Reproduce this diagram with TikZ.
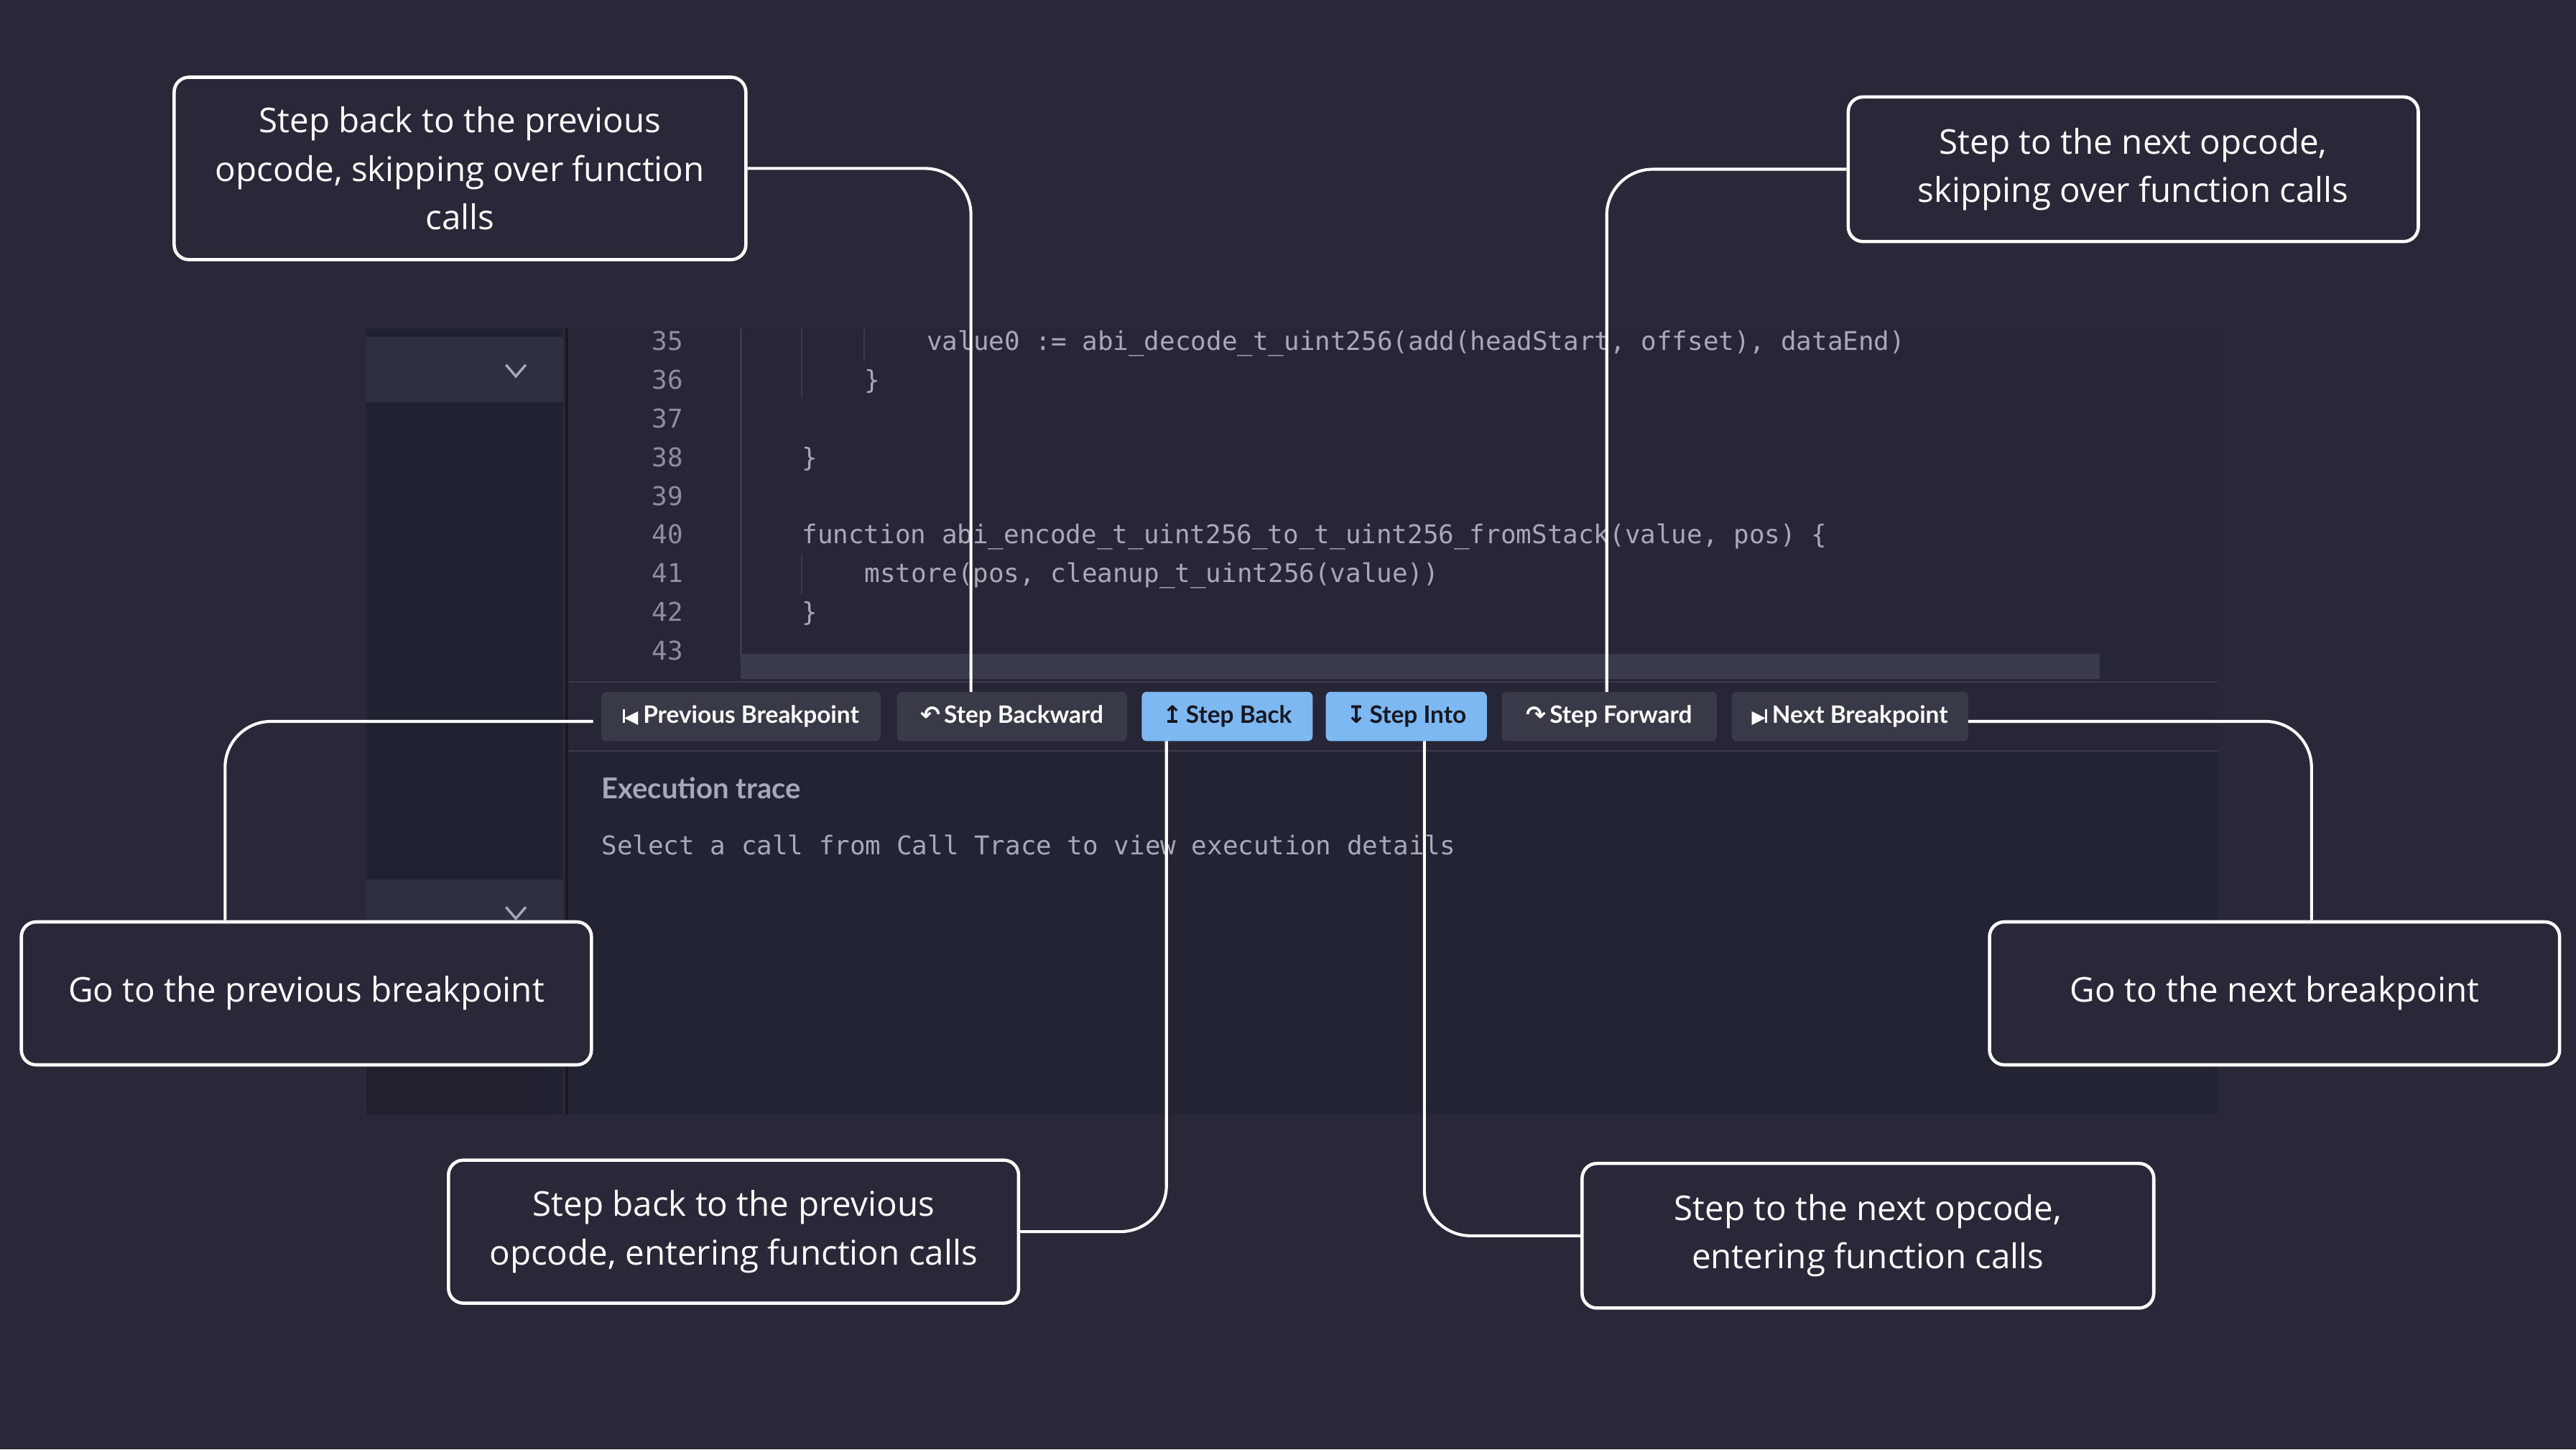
\documentclass[tikz,border=0pt]{standalone}
\usepackage{fontspec}
\setmainfont{Open Sans}
\newfontfamily\btnfont{Lato}
\newfontfamily\codefont{DejaVu Sans Mono}
\newfontfamily\symfont{DejaVu Sans}
\definecolor{bgc}{HTML}{282839}
\definecolor{sidec}{HTML}{212231}
\definecolor{sidehead}{HTML}{2E2F40}
\definecolor{edc}{HTML}{262636}
\definecolor{lowc}{HTML}{232433}
\definecolor{btnc}{HTML}{393A48}
\definecolor{blue}{HTML}{7DB8F2}
\definecolor{codec}{HTML}{A8A9B6}
\definecolor{numc}{HTML}{8E8F9C}
\definecolor{scrollc}{HTML}{3A3B4A}
\begin{document}
\begin{tikzpicture}[x=1pt,y=-1pt,
  callout/.style={draw=white,line width=2pt,rounded corners=9pt,fill=bgc,text=white,align=center,font=\fontsize{20.8}{29.5}\selectfont,inner sep=0pt},
  conn/.style={draw=white,line width=1.8pt,rounded corners=28pt},
  btn/.style={fill=btnc,rounded corners=3pt,inner sep=0pt,text=white,font=\btnfont\bfseries\fontsize{14.6}{16}\selectfont},
  bbtn/.style={btn,fill=blue,text=bgc!60!black},
  code/.style={anchor=base west,inner sep=0pt,text=codec,font=\codefont\fontsize{15.7}{18}\selectfont},
  num/.style={anchor=base east,inner sep=0pt,text=numc,font=\codefont\fontsize{15.7}{18}\selectfont}]
\fill[bgc] (0,0) rectangle (1568,882);
\useasboundingbox (0,0) rectangle (1568,882);
% panel
\fill[sidec] (223,200) rectangle (343,678);
\fill[sidehead] (223,205) rectangle (343,245);
\fill[sidehead] (223,535) rectangle (343,575);
\fill[lowc!90!black] (223,585) rectangle (332,678);
\draw[codec,line width=1.5pt] (308,222)--(314,229)--(320,222);
\draw[codec,line width=1.5pt] (308,552)--(314,559)--(320,552);
\fill[edc] (345,200) rectangle (1350,415);
\fill[lowc] (345,457) rectangle (1350,678);
\fill[edc] (345,415) rectangle (1350,457);
\draw[scrollc,line width=0.8pt] (345,415)--(1350,415) (345,457)--(1350,457);
\draw[sidec!70!black,line width=1.5pt] (345,200)--(345,678);
\draw[scrollc,line width=1pt] (451,200)--(451,400);
\fill[scrollc] (451,398) rectangle (1278,413);
\draw[scrollc,line width=1pt] (488,200)--(488,242) (526,200)--(526,220) (488,338)--(488,362);
% code
\foreach \n [count=\i from 0] in {35,...,43}
  \node[num] (ln\n) at (416,{213+23.6*\i}) {\n};
\node[code] (c35) at (564,213) {value0 := abi\_decode\_t\_uint256(add(headStart, offset), dataEnd)};
\node[code] (c36) at (526,236.6) {\}};
\node[code] (c38) at (488,283.8) {\}};
\node[code] (c40) at (488,331) {function abi\_encode\_t\_uint256\_to\_t\_uint256\_fromStack(value, pos) \{};
\node[code] (c41) at (526,354.6) {mstore(pos, cleanup\_t\_uint256(value))};
\node[code] (c42) at (488,378.2) {\}};
\node[anchor=base west,inner sep=0pt,text=codec,font=\btnfont\bfseries\fontsize{17.5}{20}\selectfont] (et) at (366,486) {Execution trace};
\node[code] (sel) at (366,520) {Select a call from Call Trace to view execution details};
% buttons
\node[btn,minimum width=170pt,minimum height=30pt] (pb) at (451,436) {\symfont\fontsize{11}{12}\selectfont\raisebox{0.5pt}{\rule{1.4pt}{8pt}}\kern-0.5pt◀\kern3pt\btnfont\bfseries\fontsize{14.6}{16}\selectfont Previous Breakpoint};
\node[btn,minimum width=140pt,minimum height=30pt] (sbw) at (616,436) {{\symfont ↶}\kern2pt Step Backward};
\node[bbtn,minimum width=104pt,minimum height=30pt] (sb) at (747,436) {{\symfont ↥}\kern2pt Step Back};
\node[bbtn,minimum width=98pt,minimum height=30pt] (si) at (856,436) {{\symfont ↧}\kern2pt Step Into};
\node[btn,minimum width=131pt,minimum height=30pt] (sf) at (979.5,436) {{\symfont ↷}\kern2pt Step Forward};
\node[btn,minimum width=144pt,minimum height=30pt] (nb) at (1126,436) {\symfont\fontsize{11}{12}\selectfont▶\kern-0.5pt\raisebox{0.5pt}{\rule{1.4pt}{8pt}}\kern3pt\btnfont\bfseries\fontsize{14.6}{16}\selectfont Next Breakpoint};
% callouts
\node[callout,minimum width=348pt,minimum height=111pt] (b1) at (280,102.5) {Step back to the previous\\opcode, skipping over function\\calls};
\node[callout,minimum width=347pt,minimum height=88pt] (b2) at (1298.5,103) {Step to the next opcode,\\skipping over function calls};
\node[callout,minimum width=347pt,minimum height=87pt] (b3) at (186.5,604.5) {Go to the previous breakpoint};
\node[callout,minimum width=347pt,minimum height=87pt] (b4) at (1384.5,604.5) {Go to the next breakpoint};
\node[callout,minimum width=347pt,minimum height=87pt] (b5) at (446.5,749.5) {Step back to the previous\\opcode, entering function calls};
\node[callout,minimum width=348pt,minimum height=88pt] (b6) at (1137,752) {Step to the next opcode,\\entering function calls};
% connector ends
\coordinate (t1) at (591,421);
\coordinate (t2) at (978,421);
\coordinate (t3) at (361,439);
\coordinate (t4) at (1198,439);
\coordinate (t5) at (710,451);
\coordinate (t6) at (867,451);
\draw[conn] (b1.east) -| (t1);
\draw[conn] (b2.west) -| (t2);
\draw[conn] (t3) -| (b3.north -| 137,0);
\draw[conn] (t4) -| (b4.north -| 1407,0);
\draw[conn] (t5) |- (b5.east);
\draw[conn] (t6) |- (b6.west);
\end{tikzpicture}
\end{document}
